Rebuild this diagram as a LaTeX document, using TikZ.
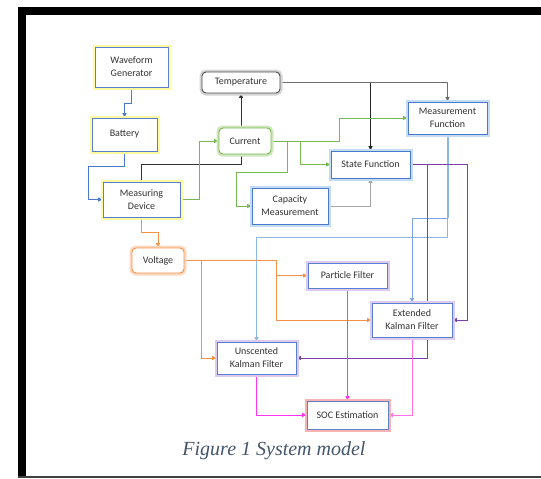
\documentclass[tikz,border=0pt]{standalone}
\usepackage{fontspec}
\setmainfont{Carlito}
\newfontfamily\capfont{Liberation Serif}
\usetikzlibrary{arrows.meta,backgrounds}
\definecolor{bxblue}{HTML}{5B7FD0}
\definecolor{glowyel}{HTML}{FFFAA0}
\definecolor{glowblue}{HTML}{C5DDF4}
\definecolor{glowlav}{HTML}{DCCBEE}
\definecolor{glowpink}{HTML}{F6B3B3}
\definecolor{glowgray}{HTML}{D4D4D4}
\definecolor{glowgreen}{HTML}{CDE6BC}
\definecolor{gloworange}{HTML}{FCD9BE}
\definecolor{cblue}{HTML}{4A78CC}
\definecolor{clblue}{HTML}{8DB8E2}
\definecolor{cgreen}{HTML}{78B850}
\definecolor{corange}{HTML}{F5924A}
\definecolor{cpurple}{HTML}{7A3FB0}
\definecolor{cmag}{HTML}{FF33EE}
\definecolor{cgray}{HTML}{6E6E6E}
\definecolor{capcol}{HTML}{44546A}
\begin{document}
\begin{tikzpicture}[x=1pt,y=-1pt,
  bx/.style={draw=bxblue, line width=0.9pt, fill=white, align=center, inner sep=0pt,
    font=\fontsize{10}{13}\selectfont, text=black!80,
    preaction={draw=#1, line width=5pt}},
  rbx/.style={bx=#1, rounded corners=4pt},
  arr/.style={-{Triangle[length=4.5pt,width=4pt]}},
  ln/.style={line width=0.9pt}]
\useasboundingbox (0,0) rectangle (541,479);
\fill[black] (18,7) rectangle (541,15);
\fill[black] (18,7) rectangle (26,477);
\draw[line width=2pt, black!75] (18,477) -- (541,477);

\node[bx=glowyel, minimum width=73pt, minimum height=40pt] (wg) at (131.5,67) {Waveform\\Generator};
\node[bx=glowyel, minimum width=65pt, minimum height=33pt] (bat) at (124.5,134.5) {Battery};
\node[bx=glowyel, minimum width=77pt, minimum height=35pt] (md) at (141.5,199.5) {Measuring\\Device};
\node[rbx=glowgray, draw=black!70, minimum width=78pt, minimum height=21pt] (temp) at (241,82.5) {Temperature};
\node[rbx=glowgreen, draw=cgreen, minimum width=52pt, minimum height=26pt] (cur) at (245,141) {Current};
\node[bx=glowblue, draw=cblue, minimum width=76pt, minimum height=36pt] (cap) at (290,206) {Capacity\\Measurement};
\node[bx=glowblue, draw=cblue, minimum width=79pt, minimum height=27pt] (sf) at (370.5,164.5) {State Function};
\node[bx=glowblue, draw=cblue, minimum width=79pt, minimum height=32pt] (mf) at (447.5,118) {Measurement\\Function};
\node[rbx=gloworange, draw=corange, minimum width=52pt, minimum height=25pt] (volt) at (158,260.5) {Voltage};
\node[bx=glowlav, minimum width=79pt, minimum height=25pt] (pf) at (347.5,275.5) {Particle Filter};
\node[bx=glowlav, minimum width=80pt, minimum height=34pt] (ekf) at (412,320) {Extended\\Kalman Filter};
\node[bx=glowlav, minimum width=79pt, minimum height=32pt] (ukf) at (256.5,358) {Unscented\\Kalman Filter};
\node[bx=glowpink, draw=bxblue!80!gray, minimum width=81pt, minimum height=28pt] (soc) at (347.5,415) {SOC Estimation};
\node[font=\capfont\itshape\fontsize{20}{24}\selectfont, text=capcol] (cap1) at (274,451) {Figure 1 System model};

\begin{scope}[on background layer]
% blue
\draw[ln, cblue, arr] (wg.south) -- ++(0,16) -| (bat.north);
\draw[ln, cblue, arr] (bat.south) |- (88,166) |- (md.west);
% black / gray
\draw[ln, black!80, arr] (temp.south |- cur.north) -- (temp.south);
\draw[ln, black!80] (temp.south |- cur.south) -- ++(0,10) -| (md.north);
\draw[ln, cgray, arr] (temp.east) -| (mf.north);
\draw[ln, black!85, arr] (sf.north |- temp.east) -- (sf.north);
\draw[ln, black!35, arr] (cap.east) -| (sf.south);
% green
\draw[ln, cgreen, arr] (md.east) -- ++(19,0) |- (cur.west);
\draw[ln, cgreen, arr] (cur.east) -- ++(68,0) |- (mf.west);
\draw[ln, cgreen, arr] ([xshift=29pt]cur.east) |- (sf.west);
\draw[ln, cgreen, arr] ([xshift=16pt]cur.east) -- ++(0,31) -- ++(-51,0) |- (cap.west);
% light blue
\draw[line width=2pt, clblue] (mf.south) -- ++(0,84);
\draw[ln, clblue, arr] (mf.south) -- ++(0,103) -| (ukf.north);
\draw[ln, clblue!90!blue, arr] ([yshift=-84pt]mf.south) -| (ekf.north);
% purple
\draw[ln, cpurple, arr] (sf.east) -- ++(57,0) |- (ekf.east);
\draw[ln, cpurple, arr] ([xshift=17pt]sf.east) |- (ukf.east);
% orange
\draw[ln, corange, arr] (md.south) -- ++(0,15) -| (volt.north);
\draw[ln, corange, arr] (volt.east) -- ++(92,0) |- (pf.west);
\draw[ln, corange, arr] ([xshift=92pt]volt.east) |- (ekf.west);
\draw[ln, corange, arr] ([xshift=17pt]volt.east) |- (ukf.west);
% magenta
\draw[ln, cmag, arr] (pf.south) -- (soc.north);
\draw[ln, cmag, arr] (ukf.south) |- (soc.west);
\draw[ln, cmag!70!white, arr] (ekf.south) |- (soc.east);
\end{scope}
\end{tikzpicture}
\end{document}
